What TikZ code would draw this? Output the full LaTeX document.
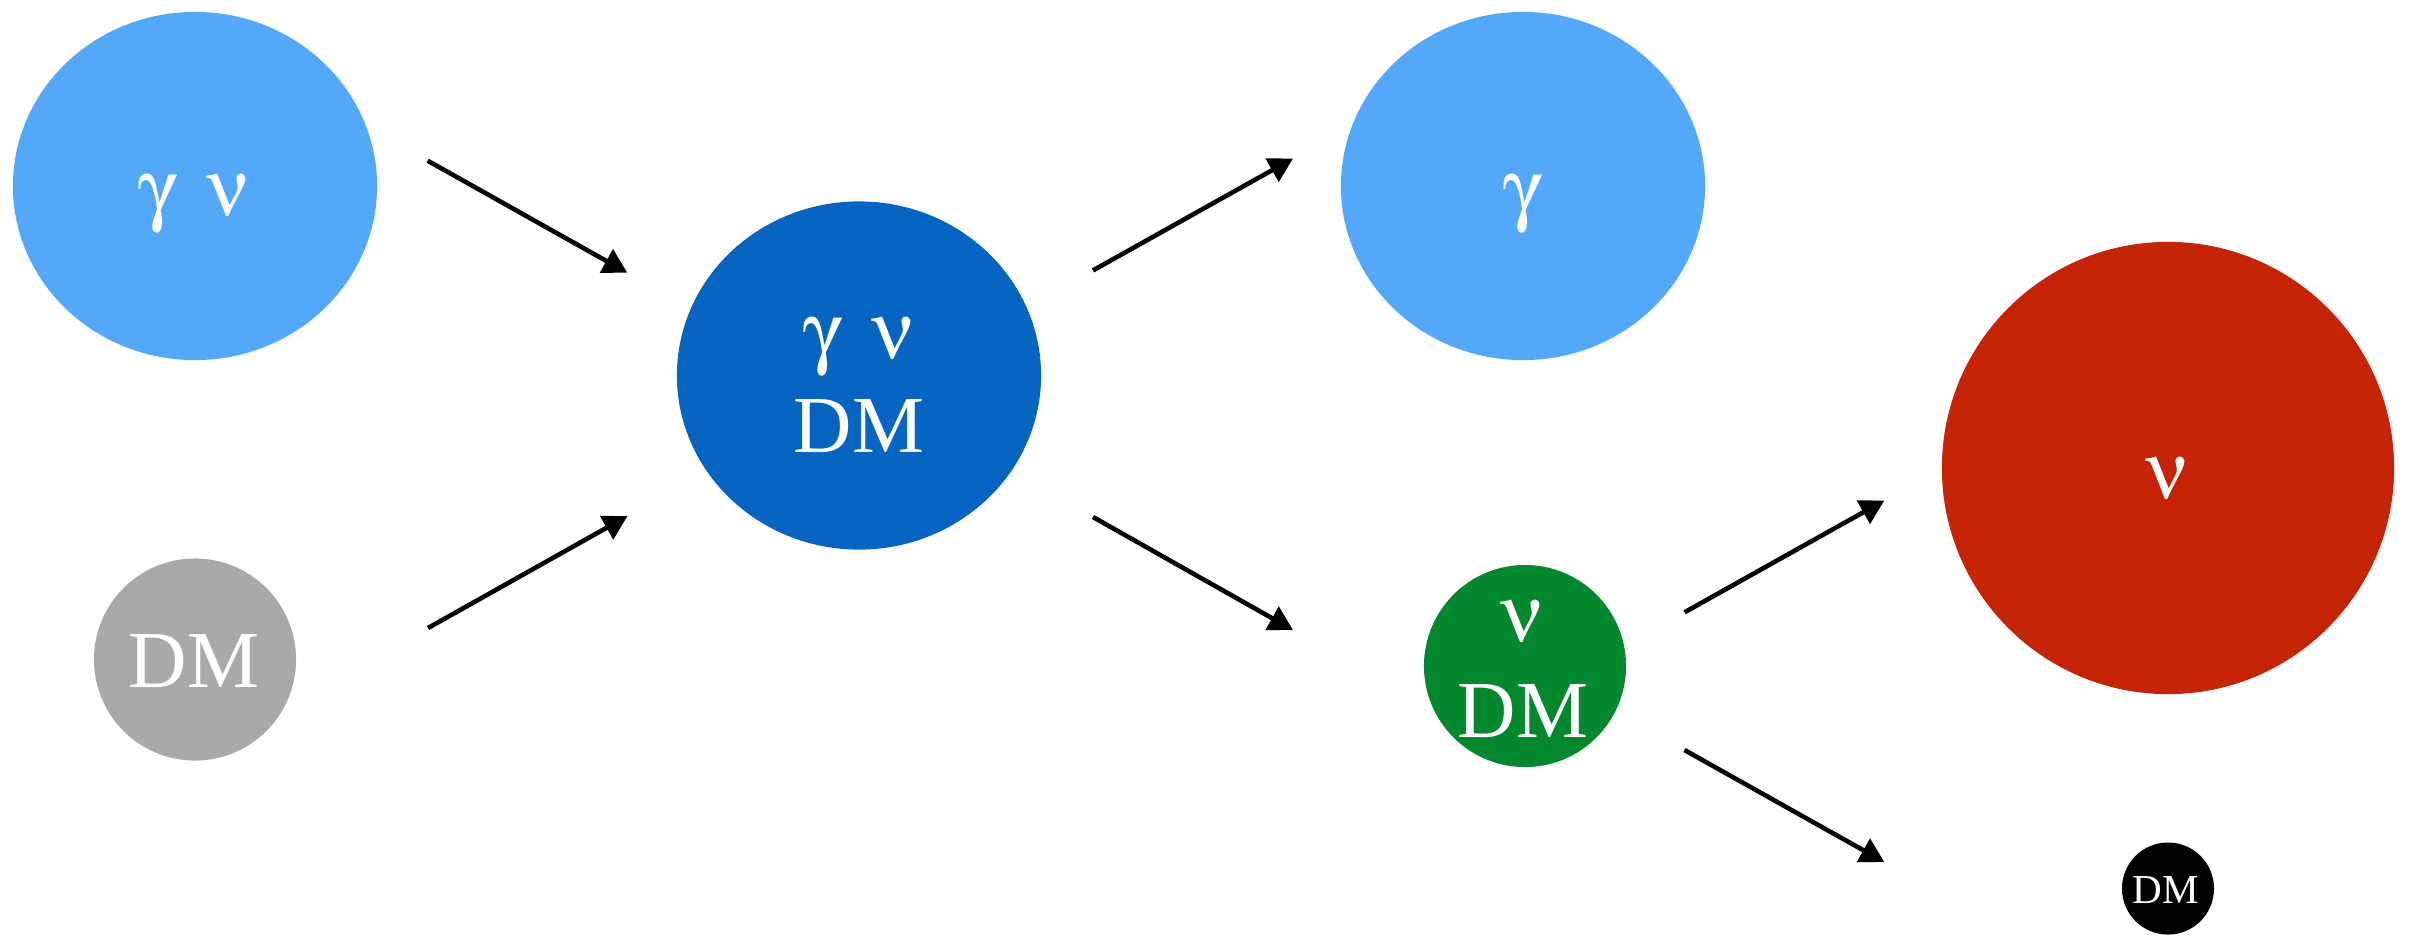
\documentclass[tikz,border=0pt]{standalone}
\usepackage[Symbol]{upgreek}
\usepackage{fontspec}
\setmainfont{Liberation Serif}
\usetikzlibrary{shapes.geometric,arrows.meta}

\definecolor{skyblue}{RGB}{83,168,250}
\definecolor{deepblue}{RGB}{5,101,192}
\definecolor{stone}{RGB}{167,170,169}
\definecolor{leaf}{RGB}{3,136,46}
\definecolor{brick}{RGB}{197,36,7}

\newcommand{\gam}{$\upgamma$}
\newcommand{\nuu}{$\upnu$}
\newcommand{\gamnu}{\gam\hspace{0.37em}\nuu}

\begin{document}
\begin{tikzpicture}[x=0.01cm,y=-0.01cm,
  blob/.style={ellipse,inner sep=0pt,minimum width=3.64cm,minimum height=3.48cm},
  dot/.style={circle,inner sep=0pt},
  lbl/.style={text=white,font=\fontsize{23}{27}\selectfont,anchor=base,inner sep=0pt},
  smalllbl/.style={text=white,font=\fontsize{11.7}{14}\selectfont,anchor=base,inner sep=0pt},
  flow/.style={-{Triangle[length=0.24cm,width=0.26cm]},line width=1.3pt,black}]
\useasboundingbox (0,0) rectangle (2421,935);

% particle populations
\node[blob,fill=skyblue]  (e1) at (195,186) {};
\node[dot,fill=stone,minimum size=2.02cm] (g1) at (195,659.5) {};
\node[blob,fill=deepblue] (e2) at (859,375.5) {};
\node[blob,fill=skyblue]  (e3) at (1523,186) {};
\node[dot,fill=leaf,minimum size=2.02cm] (g2) at (1525,666) {};
\node[dot,fill=brick,minimum size=4.52cm] (r1) at (2168,468) {};
\node[dot,fill=black,minimum size=0.92cm] (k1) at (2168,888.5) {};

% labels
\node[lbl] (e1t) at (194,215) {\gamnu};
\node[lbl] (g1t) at (194,687) {DM};
\node[lbl] (e2ta) at (859,358.8) {\gamnu};
\node[lbl] (e2tb) at (859,452.6) {DM};
\node[lbl] (e3t) at (1523,215) {\gam};
\node[lbl] (g2ta) at (1523,641) {\nuu};
\node[lbl] (g2tb) at (1523,737.3) {DM};
\node[lbl] (r1t) at (2168,498) {\nuu};
\node[smalllbl] (k1t) at (2166,903) {DM};

% arrow end points
\coordinate (a1s) at (427.7,160.7);  \coordinate (a1e) at (627.3,272.7);
\coordinate (a2s) at (428,628);      \coordinate (a2e) at (627.5,516);
\coordinate (a3s) at (1093,270.4);   \coordinate (a3e) at (1293,158.5);
\coordinate (a4s) at (1093,517);     \coordinate (a4e) at (1293,630);
\coordinate (a5s) at (1684.5,612.3); \coordinate (a5e) at (1884.3,500.5);
\coordinate (a6s) at (1684.5,750);   \coordinate (a6e) at (1884.3,862);

\draw[flow] (a1s) -- (a1e);
\draw[flow] (a2s) -- (a2e);
\draw[flow] (a3s) -- (a3e);
\draw[flow] (a4s) -- (a4e);
\draw[flow] (a5s) -- (a5e);
\draw[flow] (a6s) -- (a6e);
\end{tikzpicture}
\end{document}
